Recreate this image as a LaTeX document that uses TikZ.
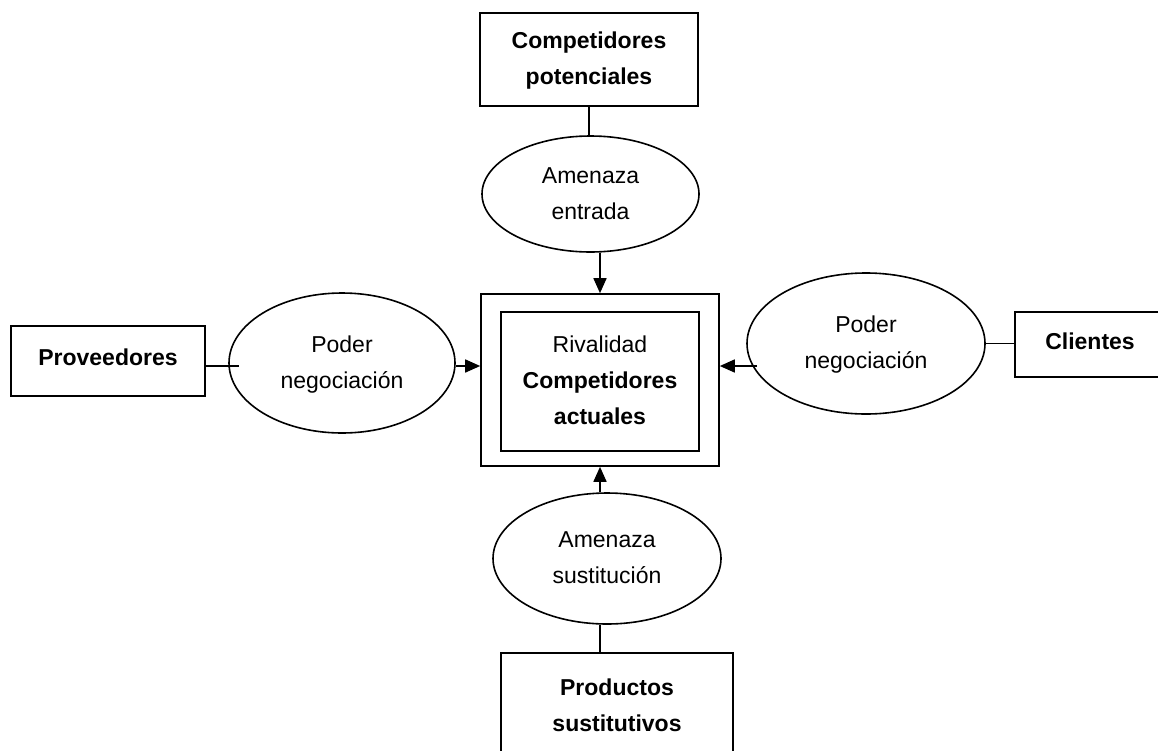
\documentclass[tikz,border=0pt]{standalone}
\usepackage{fontspec}
\setmainfont{Liberation Sans}
\usetikzlibrary{shapes.geometric,arrows.meta}
\newcommand\mytxt[2]{\raisebox{#1}{\begin{tabular}{@{}c@{}}#2\end{tabular}}}
\tikzset{
  base/.style={draw=black, line width=1.6pt, align=center, inner sep=0pt,
    font=\fontsize{23}{36}\selectfont},
  boxnode/.style={base, rectangle},
  ovalnode/.style={base, ellipse},
  conn/.style={draw=black, line width=1.6pt},
  arr/.style={conn, -{Triangle[length=15pt,width=13pt]}}
}
\begin{document}
\begin{tikzpicture}[x=1pt,y=-1pt]
\useasboundingbox (0,0) rectangle (1158,750);
\fill[white] (0,0) rectangle (1158,750);
\clip (0,0) rectangle (1158,750);
% nodes
\node[boxnode, minimum width=218, minimum height=93] (cp) at (589,59.5) {\mytxt{-2pt}{\textbf{Competidores}\\\textbf{potenciales}}};
\node[ovalnode, minimum width=217, minimum height=116] (ent) at (590.5,194) {\mytxt{-5.5pt}{Amenaza\\entrada}};
\node[boxnode, minimum width=238, minimum height=172] (outer) at (600,380) {};
\node[boxnode, minimum width=198, minimum height=139] (inner) at (600,381.5) {\mytxt{5pt}{Rivalidad\\\textbf{Competidores}\\\textbf{actuales}}};
\node[boxnode, minimum width=194, minimum height=70] (prov) at (108,361) {\raisebox{8pt}{\textbf{Proveedores}}};
\node[ovalnode, minimum width=226, minimum height=140] (pnl) at (342,363) {\mytxt{3pt}{Poder\\negociación}};
\node[ovalnode, minimum width=238, minimum height=141] (pnr) at (866,343.5) {\mytxt{3.5pt}{Poder\\negociación}};
\node[boxnode, minimum width=150, minimum height=65] (cli) at (1090,344.5) {\raisebox{6pt}{\textbf{Clientes}}};
\node[ovalnode, minimum width=228, minimum height=131] (sus) at (607,558.5) {\mytxt{4pt}{Amenaza\\sustitución}};
\node[boxnode, minimum width=232, minimum height=107] (prod) at (617,706.5) {\mytxt{5.5pt}{\textbf{Productos}\\\textbf{sustitutivos}}};
% helper coordinates
\coordinate (ya) at (0,366);
\coordinate (pl) at (239,366);
\coordinate (pr) at (757,366);
% connectors
\draw[conn] (cp.south) -- (cp.south |- ent.north);
\draw[arr] (outer.north |- ent.south) -- (outer.north);
\draw[conn] (prov.east |- pl) -- (pl);
\draw[arr] (pnl.east |- ya) -- (outer.west |- ya);
\draw[arr] (pr) -- (outer.east |- ya);
\draw[conn] (pnr.east) -- (cli.west |- pnr.east);
\draw[arr] (outer.south |- sus.north) -- (outer.south);
\draw[conn] (outer.south |- sus.south) -- (outer.south |- prod.north);
\end{tikzpicture}
\end{document}
